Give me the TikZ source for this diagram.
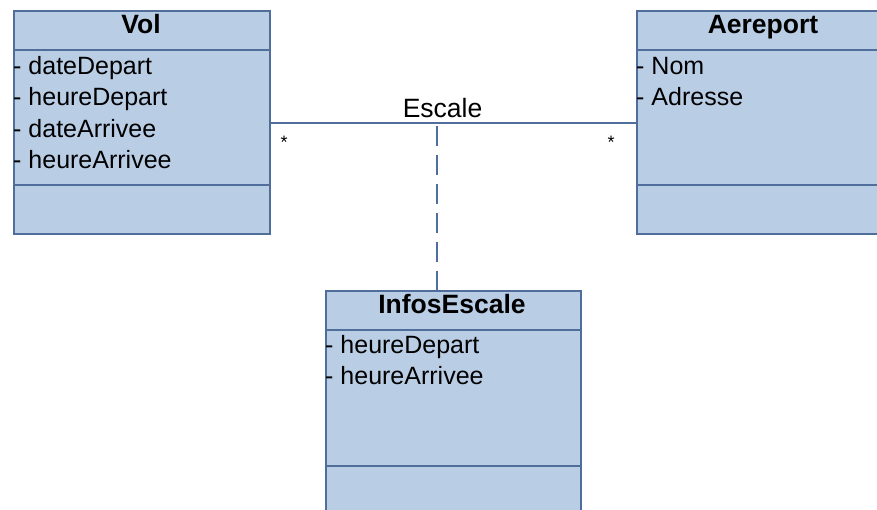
\documentclass[tikz,border=0pt]{standalone}
\usepackage{fontspec}
\setmainfont{Liberation Sans}
\definecolor{classfill}{RGB}{185,205,229}
\definecolor{classline}{RGB}{80,110,155}
\tikzset{
	classbox/.style = {draw = classline, fill = classfill, line width = 2pt, rectangle,
		inner sep = 0pt, anchor = north west},
	classname/.style = {anchor = base, font = \fontsize{26.5}{30}\selectfont\bfseries},
	attr/.style = {anchor = base west, inner sep = 1pt, font = \fontsize{25}{30}\selectfont},
	divider/.style = {draw = classline, line width = 2pt},
	mult/.style = {font = \fontsize{18}{20}\selectfont}
}
\begin{document}
\begin{tikzpicture}[x = 1pt, y = -1pt]
		\clip (0,0) rectangle (877,509);
		% classes
		\node[classbox, minimum width = 256pt, minimum height = 223pt] (vol) at (13,10) {};
		\node[classbox, minimum width = 260pt, minimum height = 223pt] (aeroport) at (636,10) {};
		\node[classbox, minimum width = 255pt, minimum height = 240pt] (infos) at (325,290) {};
		\draw[divider] (13,50) -- (269,50) (13,185) -- (269,185);
		\draw[divider] (636,50) -- (877,50) (636,185) -- (877,185);
		\draw[divider] (325,330) -- (580,330) (325,466) -- (580,466);
		\node[classname] (vol-name) at (141,33) {Vol};
		\node[classname] (aeroport-name) at (763,33) {Aereport};
		\node[classname] (infos-name) at (452,313) {InfosEscale};
		\foreach \txt [count = \i] in {dateDepart, heureDepart, dateArrivee, heureArrivee}
			\node[attr] (vol-\i) at (12, 74 + 31.5*\i - 31.5) {- \txt};
		\foreach \txt [count = \i] in {Nom, Adresse}
			\node[attr] (aeroport-\i) at (635, 74 + 31.5*\i - 31.5) {- \txt};
		\foreach \txt [count = \i] in {heureDepart, heureArrivee}
			\node[attr] (infos-\i) at (324, 353 + 31.5*\i - 31.5) {- \txt};
		% association
		\draw[classline, line width = 2pt] (vol.east) -- (aeroport.west)
			node[pos = 0.47, above = 0pt, font = \fontsize{26.5}{30}\selectfont, text = black] (escale) {Escale};
		\coordinate (assoc) at (437,122);
		\draw[classline, line width = 2.5pt, dash pattern = on 20pt off 9pt] ([yshift = -4pt]assoc) -- (infos.north -| assoc);
		\node[mult] (vol-mult) at (284,142) {*};
		\node[mult] (aeroport-mult) at (611,142) {*};
	\end{tikzpicture}
\end{document}
